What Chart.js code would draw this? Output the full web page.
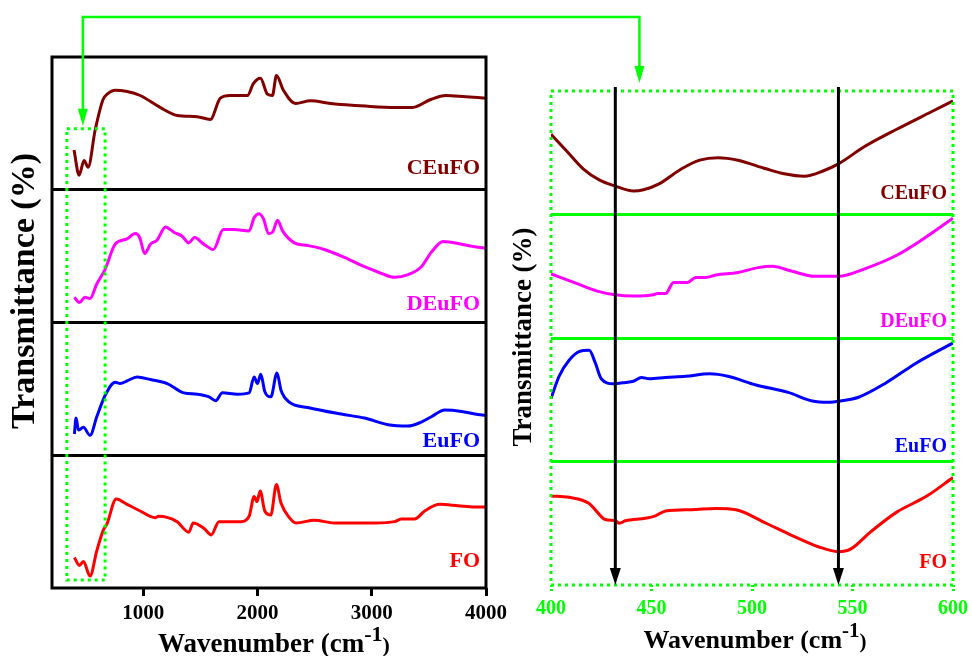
<!DOCTYPE html>
<html>
<head>
<meta charset="utf-8">
<script src="https://cdn.jsdelivr.net/npm/chart.js@4.4.0/dist/chart.umd.min.js"></script>
<style>
  html, body { margin: 0; padding: 0; background: #fff; }
  #wrap { position: relative; width: 972px; height: 656px; }
  canvas { position: absolute; left: 0; top: 0; }
</style>
</head>
<body>
<div id="wrap">
  <canvas id="wide" width="972" height="656"></canvas>
  <canvas id="zoom" width="972" height="656"></canvas>
</div>
<script>
// samples, top strip first
const sampleNames = ['CEuFO', 'DEuFO', 'EuFO', 'FO'];
const sampleColors = ['#800000', '#ff00ff', '#0000ff', '#ff0000'];

// full range spectra: wavenumber (cm-1) / relative transmittance inside its strip (0..1)
const ceufoWideX = [393, 437, 481, 516, 578, 647, 683, 753, 858, 972, 1147, 1296, 1472, 1586, 1674, 1761, 1911, 1963, 2025, 2086, 2130, 2165, 2226, 2332, 2463, 2639, 2946, 3209, 3358, 3516, 3648, 3823, 3999];
const ceufoWideY = [0.30, 0.11, 0.22, 0.17, 0.45, 0.68, 0.72, 0.75, 0.74, 0.71, 0.62, 0.56, 0.55, 0.53, 0.69, 0.71, 0.71, 0.80, 0.84, 0.72, 0.71, 0.86, 0.75, 0.65, 0.67, 0.65, 0.63, 0.62, 0.62, 0.68, 0.71, 0.70, 0.69];

const deufoWideX = [396, 440, 490, 533, 592, 665, 753, 857, 930, 968, 1012, 1062, 1120, 1194, 1267, 1340, 1398, 1448, 1530, 1613, 1700, 1794, 1926, 1970, 2014, 2052, 2096, 2131, 2175, 2219, 2322, 2439, 2585, 2761, 2937, 3083, 3200, 3317, 3434, 3522, 3625, 3786, 3903, 4000];
const deufoWideY = [0.19, 0.15, 0.19, 0.18, 0.29, 0.40, 0.59, 0.63, 0.67, 0.64, 0.52, 0.59, 0.62, 0.72, 0.68, 0.65, 0.60, 0.64, 0.59, 0.55, 0.70, 0.70, 0.69, 0.79, 0.82, 0.78, 0.67, 0.68, 0.77, 0.69, 0.60, 0.58, 0.55, 0.49, 0.42, 0.37, 0.34, 0.36, 0.42, 0.53, 0.61, 0.59, 0.57, 0.56];

const eufoWideX = [396, 411, 431, 475, 533, 592, 665, 753, 797, 857, 945, 1062, 1209, 1355, 1472, 1575, 1633, 1692, 1823, 1926, 1970, 1999, 2028, 2063, 2116, 2170, 2205, 2278, 2439, 2732, 2937, 3142, 3317, 3434, 3522, 3639, 3786, 3903, 4000];
const eufoWideY = [0.16, 0.28, 0.19, 0.21, 0.15, 0.29, 0.45, 0.55, 0.54, 0.56, 0.59, 0.57, 0.54, 0.47, 0.46, 0.44, 0.41, 0.47, 0.46, 0.47, 0.59, 0.54, 0.61, 0.48, 0.44, 0.62, 0.49, 0.40, 0.36, 0.31, 0.28, 0.23, 0.22, 0.25, 0.29, 0.34, 0.33, 0.31, 0.30];

const foWideX = [396, 440, 475, 533, 592, 651, 680, 762, 857, 972, 1104, 1133, 1294, 1398, 1436, 1530, 1594, 1662, 1853, 1926, 1970, 1994, 2023, 2063, 2116, 2165, 2205, 2278, 2337, 2498, 2673, 3024, 3200, 3258, 3375, 3463, 3595, 3755, 3903, 4000];
const foWideY = [0.23, 0.17, 0.20, 0.09, 0.28, 0.44, 0.48, 0.67, 0.63, 0.58, 0.53, 0.54, 0.50, 0.42, 0.49, 0.45, 0.40, 0.50, 0.50, 0.54, 0.69, 0.65, 0.73, 0.58, 0.55, 0.78, 0.64, 0.53, 0.49, 0.51, 0.49, 0.49, 0.50, 0.52, 0.52, 0.58, 0.63, 0.62, 0.61, 0.61];

// 400-600 cm-1 detail
const ceufoZoomX = [400, 408, 416, 424, 432, 441, 446, 454, 465, 474, 483, 493, 507, 516, 526, 535, 543, 556, 572, 589, 600];
const ceufoZoomY = [0.65, 0.51, 0.37, 0.28, 0.23, 0.19, 0.20, 0.25, 0.37, 0.44, 0.46, 0.44, 0.37, 0.33, 0.31, 0.35, 0.41, 0.55, 0.69, 0.83, 0.92];

const deufoZoomX = [400, 413, 423, 432, 441, 451, 453, 457, 461, 465, 468, 472, 477, 482, 493, 503, 510, 520, 531, 543, 556, 572, 585, 600];
const deufoZoomY = [0.52, 0.44, 0.38, 0.35, 0.34, 0.35, 0.36, 0.36, 0.45, 0.45, 0.45, 0.49, 0.49, 0.51, 0.53, 0.57, 0.58, 0.54, 0.50, 0.50, 0.56, 0.67, 0.80, 0.97];

const eufoZoomX = [400, 404, 409, 414, 419, 422, 425, 431, 437, 441, 445, 449, 457, 467, 479, 488, 502, 518, 530, 538, 544, 553, 566, 582, 600];
const eufoZoomY = [0.51, 0.69, 0.82, 0.89, 0.90, 0.80, 0.67, 0.63, 0.64, 0.65, 0.68, 0.67, 0.68, 0.69, 0.71, 0.69, 0.62, 0.56, 0.49, 0.48, 0.49, 0.52, 0.63, 0.80, 0.96];

const foZoomX = [400, 409, 419, 423, 427, 432, 434, 437, 447, 452, 457, 470, 482, 492, 507, 520, 533, 543, 549, 559, 572, 587, 600];
const foZoomY = [0.72, 0.71, 0.66, 0.59, 0.53, 0.52, 0.50, 0.52, 0.54, 0.56, 0.60, 0.61, 0.62, 0.61, 0.50, 0.40, 0.31, 0.27, 0.29, 0.43, 0.59, 0.72, 0.87];

const wideTicks = [1000, 2000, 3000, 4000];
const zoomTicks = [400, 450, 500, 550, 600];
const stripEdges = [1, 2, 3];

// marked bands (cm-1) and the 400-650 window shown on the right
const bandMarks = [432, 543];
const windowX = [330, 665];
const windowY = [0.06, 3.46];

const green = '#00ff00';
const serif = '"Liberation Serif", "Times New Roman", serif';

const wideX = [ceufoWideX, deufoWideX, eufoWideX, foWideX];
const wideY = [ceufoWideY, deufoWideY, eufoWideY, foWideY];
const zoomX = [ceufoZoomX, deufoZoomX, eufoZoomX, foZoomX];
const zoomY = [ceufoZoomY, deufoZoomY, eufoZoomY, foZoomY];

function makeSets(xsList, ysList) {
  return sampleNames.map((name, i) => ({
    label: name,
    data: xsList[i].map((x, j) => ({ x: x, y: ysList[i][j] + (3 - i) })),
    borderColor: sampleColors[i],
    borderWidth: 3,
    pointRadius: 0,
    fill: false,
    cubicInterpolationMode: 'monotone'
  }));
}

// x title with the superscript
function drawXTitle(ctx, cx, baseY, size) {
  const big = 'bold ' + size + 'px ' + serif;
  const small = 'bold ' + Math.round(size * 0.8) + 'px ' + serif;
  ctx.font = big;
  const w1 = ctx.measureText('Wavenumber (cm').width;
  ctx.font = small;
  const w2 = ctx.measureText('-1').width;
  const w3 = ctx.measureText(')').width;
  let x = cx - (w1 + w2 + w3) / 2;
  ctx.textAlign = 'left';
  ctx.textBaseline = 'alphabetic';
  ctx.font = big;
  ctx.fillText('Wavenumber (cm', x, baseY);
  x += w1;
  ctx.font = small;
  ctx.fillText('-1', x, baseY - size * 0.42);
  x += w2;
  ctx.fillText(')', x, baseY);
}

function drawYTitle(ctx, cx, cy, size) {
  ctx.save();
  ctx.translate(cx, cy);
  ctx.rotate(-Math.PI / 2);
  ctx.font = 'bold ' + size + 'px ' + serif;
  ctx.textAlign = 'center';
  ctx.textBaseline = 'middle';
  ctx.fillStyle = '#000';
  ctx.fillText('Transmittance (%)', 0, 0);
  ctx.restore();
}

function drawNames(chart, size, lift) {
  const ctx = chart.ctx, a = chart.chartArea, ys = chart.scales.y;
  ctx.font = 'bold ' + size + 'px ' + serif;
  ctx.textAlign = 'right';
  ctx.textBaseline = 'middle';
  sampleNames.forEach((n, i) => {
    ctx.fillStyle = sampleColors[i];
    ctx.fillText(n, a.right - 6, ys.getPixelForValue(3 - i + lift[i]));
  });
}

function arrowDown(ctx, x, y0, y1, head, half) {
  ctx.beginPath();
  ctx.moveTo(x, y0);
  ctx.lineTo(x, y1 - head + 2);
  ctx.stroke();
  ctx.beginPath();
  ctx.moveTo(x - half, y1 - head);
  ctx.lineTo(x + half, y1 - head);
  ctx.lineTo(x, y1);
  ctx.closePath();
  ctx.fill();
}

const tickFont = size => ({ family: serif, size: size, weight: 'bold' });
const plainTick = v => String(v);

const widePlugin = {
  id: 'wideDecor',
  afterDraw(chart) {
    const ctx = chart.ctx, a = chart.chartArea, xs = chart.scales.x, ys = chart.scales.y;
    ctx.save();
    ctx.strokeStyle = '#000';
    ctx.lineWidth = 3;
    ctx.strokeRect(a.left, a.top, a.right - a.left, a.bottom - a.top);

    ctx.strokeStyle = green;
    ctx.setLineDash([3, 4]);
    const bx = xs.getPixelForValue(windowX[0]), bx2 = xs.getPixelForValue(windowX[1]);
    const by = ys.getPixelForValue(windowY[1]), by2 = ys.getPixelForValue(windowY[0]);
    ctx.strokeRect(bx, by, bx2 - bx, by2 - by);
    ctx.setLineDash([]);

    drawNames(chart, 22, [0.165, 0.135, 0.105, 0.20]);
    ctx.fillStyle = '#000';
    drawXTitle(ctx, (a.left + a.right) / 2 + 5, 652, 27);
    drawYTitle(ctx, 25, 291, 34);
    ctx.restore();
  }
};

const wideChart = new Chart(document.getElementById('wide'), {
  type: 'line',
  data: { datasets: makeSets(wideX, wideY) },
  options: {
    responsive: false,
    animation: false,
    layout: { padding: { left: 52, top: 57, right: 486, bottom: 0 } },
    plugins: { legend: { display: false }, tooltip: { enabled: false } },
    scales: {
      x: {
        type: 'linear', min: 200, max: 4000,
        afterBuildTicks: s => { s.ticks = wideTicks.map(v => ({ value: v })); },
        afterFit: s => { s.height = 68; },
        border: { display: false },
        grid: { drawOnChartArea: false, drawTicks: true, tickLength: 8, tickWidth: 3, tickColor: '#000' },
        ticks: { color: '#000', font: tickFont(21), padding: 5, maxRotation: 0, callback: plainTick }
      },
      y: {
        type: 'linear', min: 0, max: 4,
        afterBuildTicks: s => { s.ticks = stripEdges.map(v => ({ value: v })); },
        afterFit: s => { s.width = 0; },
        border: { display: false },
        ticks: { display: false },
        grid: { color: '#000', lineWidth: 3, drawTicks: false }
      }
    }
  },
  plugins: [widePlugin]
});

const zoomPlugin = {
  id: 'zoomDecor',
  afterDraw(chart) {
    const ctx = chart.ctx, a = chart.chartArea, xs = chart.scales.x;
    ctx.save();
    ctx.strokeStyle = green;
    ctx.lineWidth = 3;
    ctx.setLineDash([3, 4]);
    ctx.strokeRect(a.left, a.top, a.right - a.left, a.bottom - a.top);
    ctx.setLineDash([]);

    // marked bands
    ctx.strokeStyle = '#000';
    ctx.fillStyle = '#000';
    ctx.lineWidth = 3;
    bandMarks.forEach(b => arrowDown(ctx, xs.getPixelForValue(b), a.top - 4, a.bottom, 17, 5.5));

    drawNames(chart, 20, [0.166, 0.134, 0.117, 0.18]);
    ctx.fillStyle = '#000';
    drawXTitle(ctx, (a.left + a.right) / 2 + 3, 648, 26);
    drawYTitle(ctx, 524, 337, 27);

    // connector from the window on the left to this panel
    const wx = wideChart.scales.x.getPixelForValue(470);
    const wTop = wideChart.scales.y.getPixelForValue(windowY[1]) - 3;
    const zx = xs.getPixelForValue(444);
    const lineY = 17;
    ctx.strokeStyle = green;
    ctx.fillStyle = green;
    ctx.lineWidth = 2.5;
    ctx.beginPath();
    ctx.moveTo(wx, wTop - 15);
    ctx.lineTo(wx, lineY);
    ctx.lineTo(zx, lineY);
    ctx.lineTo(zx, a.top - 22);
    ctx.stroke();
    arrowDown(ctx, wx, wTop - 15, wTop, 17, 5);
    arrowDown(ctx, zx, a.top - 22, a.top - 8, 17, 5);
    ctx.restore();
  }
};

new Chart(document.getElementById('zoom'), {
  type: 'line',
  data: { datasets: makeSets(zoomX, zoomY) },
  options: {
    responsive: false,
    animation: false,
    layout: { padding: { left: 551, top: 91, right: 16, bottom: 0 } },
    plugins: { legend: { display: false }, tooltip: { enabled: false } },
    scales: {
      x: {
        type: 'linear', min: 400, max: 600,
        afterBuildTicks: s => { s.ticks = zoomTicks.map(v => ({ value: v })); },
        afterFit: s => { s.height = 71; },
        border: { display: false },
        grid: { drawOnChartArea: false, drawTicks: true, tickLength: 8, tickWidth: 3, tickColor: green, tickBorderDash: [2, 2] },
        ticks: { color: green, font: tickFont(20), padding: 4, maxRotation: 0, callback: plainTick }
      },
      y: {
        type: 'linear', min: 0, max: 4,
        afterBuildTicks: s => { s.ticks = stripEdges.map(v => ({ value: v })); },
        afterFit: s => { s.width = 0; },
        border: { display: false },
        ticks: { display: false },
        grid: { color: green, lineWidth: 3, drawTicks: false }
      }
    }
  },
  plugins: [zoomPlugin]
});
</script>
</body>
</html>
